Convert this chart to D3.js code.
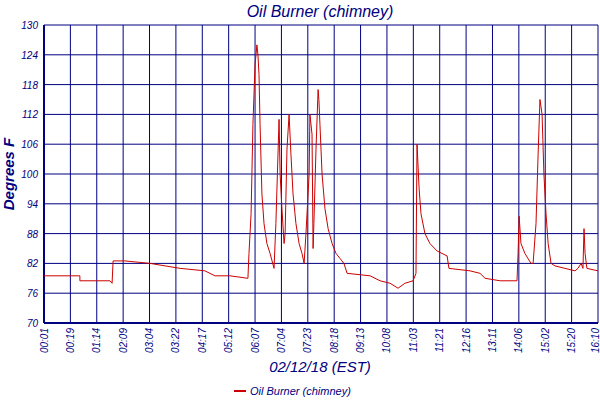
<!DOCTYPE html>
<html><head><meta charset="utf-8">
<script src="https://cdn.jsdelivr.net/npm/d3@7"></script>
<style>body{margin:0;background:#fff}text{font-family:"Liberation Sans",sans-serif;fill:#000080}</style>
</head><body><div id="chart"></div>
<script>
const timeLabels = ["00:01","00:19","01:14","02:09","03:04","03:22","04:17","05:12","06:07","07:04","07:23","08:18","09:13","10:08","11:03","11:21","12:16","13:11","14:06","15:02","15:20","16:10"];
const yTicks = [70,76,82,88,94,100,106,112,118,124,130];
// position along the label axis (0 = first label, 21 = last), temperature
const seriesPos = [
  0,1.36,1.36,2.50,2.58,2.62,3.07,4.02,4.59,5.16,
  6.10,6.48,7.05,7.73,7.77,7.85,7.92,8.00,8.07,8.11,
  8.15,8.19,8.26,8.34,8.45,8.57,8.72,8.79,8.91,8.95,
  9.02,9.10,9.14,9.21,9.29,9.36,9.44,9.55,9.67,9.78,
  9.86,9.93,10.05,10.08,10.16,10.20,10.23,10.31,10.39,10.42,
  10.46,10.54,10.65,10.77,10.92,11.07,11.22,11.37,11.49,12.36,
  12.74,13.12,13.42,13.68,13.99,14.10,14.14,14.22,14.29,14.44,
  14.63,14.90,15.28,15.35,16.15,16.53,16.72,17.29,17.93,17.97,
  18.01,18.08,18.23,18.46,18.54,18.65,18.73,18.80,18.88,18.95,
  19.03,19.11,19.22,19.37,19.75,20.13,20.24,20.36,20.43,20.47,
  20.51,20.58,21];
const seriesVal = [
  79.5,79.5,78.5,78.5,78,82.5,82.5,82,81.5,81,
  80.5,79.5,79.5,79,84,92,110,122,126,124,
  120,110,96,90,86,84,81,90,111,100,
  93,86,88,105,112,104,96,90,86,84,
  82,88,100,112,108,85,90,105,117,115,
  110,100,93,89,86,84,83,82,80,79.5,
  78.5,78,77,78,78.5,80,106,97,92,88,
  86,84.5,83.5,81,80.5,80,79,78.5,78.5,84,
  91.5,86,84,82,82,90,104,115,112,100,
  92,86,82,81.5,81,80.5,81,82,81,89,
  84,81,80.5];
const series = seriesPos.map((p, i) => ({p, v: seriesVal[i]}));

const W = 600, H = 400, m = {l: 44, r: 2, t: 25, b: 77};
const svg = d3.select("#chart").append("svg").attr("width", W).attr("height", H);
const x = d3.scaleLinear().domain([0, timeLabels.length - 1]).range([m.l, W - m.r]);
const y = d3.scaleLinear().domain([70, 130]).range([H - m.b, m.t]);

svg.append("text").attr("x", 320).attr("y", 17).attr("text-anchor", "middle")
  .style("font-size", "16px").style("font-style", "italic").text("Oil Burner (chimney)");

// grid
svg.append("g").selectAll("line").data(yTicks).join("line")
  .attr("x1", m.l).attr("x2", W - m.r).attr("y1", d => y(d)).attr("y2", d => y(d))
  .attr("stroke", "#000080");
svg.append("g").selectAll("line").data(timeLabels).join("line")
  .attr("x1", (d, i) => x(i)).attr("x2", (d, i) => x(i)).attr("y1", m.t).attr("y2", H - m.b)
  .attr("stroke", "#000080");
svg.append("line").attr("x1", m.l).attr("x2", m.l).attr("y1", m.t).attr("y2", H - m.b).attr("stroke", "#000080").attr("stroke-width", 2);
svg.append("line").attr("x1", m.l).attr("x2", W - m.r).attr("y1", H - m.b).attr("y2", H - m.b).attr("stroke", "#000080").attr("stroke-width", 2);

// y labels
svg.append("g").selectAll("text").data(yTicks).join("text")
  .attr("x", 38).attr("y", d => y(d) + 4).attr("text-anchor", "end")
  .style("font-size", "10px").style("font-style", "italic").text(d => d);
// x labels rotated
svg.append("g").selectAll("text").data(timeLabels).join("text")
  .attr("transform", (d, i) => `translate(${Math.min(x(i) + 3.5, W - 1)},${H - m.b + 5}) rotate(-90)`)
  .attr("text-anchor", "end").style("font-size", "10px").style("font-style", "italic").text(d => d);

svg.append("text").attr("x", 320).attr("y", 372).attr("text-anchor", "middle")
  .style("font-size", "15px").style("font-style", "italic").text("02/12/18 (EST)");
svg.append("text").attr("transform", "translate(14,174) rotate(-90)").attr("text-anchor", "middle")
  .style("font-size", "15px").style("font-style", "italic").style("font-weight", "bold").text("Degrees F");

// series
const line = d3.line().x(d => x(d.p)).y(d => y(d.v));
svg.append("path").datum(series).attr("d", line).attr("fill", "none").attr("stroke", "#cc0000").attr("stroke-width", 1);

// legend
svg.append("line").attr("x1", 234).attr("x2", 246).attr("y1", 391).attr("y2", 391).attr("stroke", "#cc0000").attr("stroke-width", 2);
svg.append("text").attr("x", 250).attr("y", 395).style("font-size", "11px").style("font-style", "italic").text("Oil Burner (chimney)");
</script></body></html>
